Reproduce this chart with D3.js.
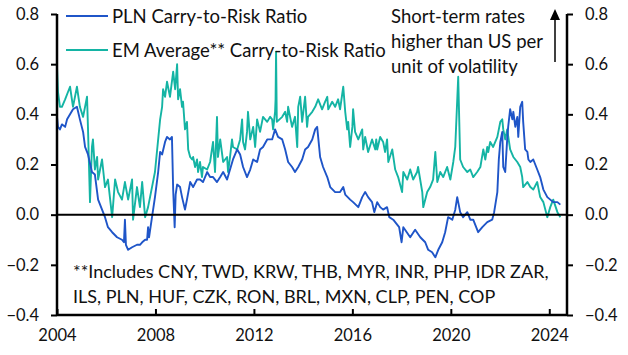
<!DOCTYPE html>
<html><head><meta charset="utf-8">
<script src="https://cdn.jsdelivr.net/npm/d3@7"></script>
<style>body{margin:0;background:#fff}svg{display:block}text{font-family:Lato,"Open Sans",sans-serif;fill:#111}</style>
</head><body><svg id="c" width="628" height="355"></svg>
<script>
const yTicks = [-0.4,-0.2,0.0,0.2,0.4,0.6,0.8];
const xTicks = [2004,2008,2012,2016,2020,2024];
const seriesNames = ["PLN Carry-to-Risk Ratio","EM Average** Carry-to-Risk Ratio"];
const annotation = ["Short-term rates","higher than US per","unit of volatility"];
const footnote = ["**Includes CNY, TWD, KRW, THB, MYR, INR, PHP, IDR ZAR,","ILS, PLN, HUF, CZK, RON, BRL, MXN, CLP, PEN, COP"];
const plnData = [
[2004.00,0.39],[2004.04,0.35],[2004.12,0.34],[2004.20,0.36],[2004.33,0.35],[2004.41,0.38],[2004.53,0.40],[2004.65,0.42],[2004.81,0.43],[2004.93,0.38],
[2005.06,0.33],[2005.14,0.27],[2005.26,0.24],[2005.42,0.17],[2005.54,0.16],[2005.67,0.06],[2005.83,0.02],[2005.95,-0.01],[2006.07,-0.05],[2006.24,-0.07],
[2006.44,-0.09],[2006.64,-0.10],[2006.72,-0.11],[2006.76,-0.02],[2006.80,-0.12],[2006.89,-0.14],[2007.05,-0.13],[2007.25,-0.12],[2007.37,-0.12],[2007.46,-0.11],
[2007.58,-0.10],[2007.66,-0.10],[2007.70,-0.05],[2007.74,-0.09],[2007.86,-0.01],[2007.98,0.07],[2008.11,0.17],[2008.19,0.25],[2008.27,0.24],[2008.39,0.29],
[2008.47,0.31],[2008.59,0.30],[2008.67,0.31],[2008.72,0.10],[2008.78,-0.05],[2008.82,0.08],[2008.88,0.12],[2009.00,0.11],[2009.08,0.07],[2009.20,0.02],
[2009.28,0.06],[2009.41,0.13],[2009.53,0.11],[2009.69,0.14],[2009.81,0.14],[2009.93,0.13],[2010.10,0.17],[2010.22,0.15],[2010.34,0.15],[2010.50,0.13],
[2010.63,0.15],[2010.75,0.17],[2010.91,0.14],[2011.03,0.18],[2011.15,0.22],[2011.32,0.26],[2011.44,0.24],[2011.56,0.19],[2011.72,0.15],[2011.85,0.18],
[2011.97,0.22],[2012.13,0.21],[2012.25,0.26],[2012.37,0.27],[2012.54,0.30],[2012.66,0.30],[2012.74,0.30],[2012.86,0.34],[2012.98,0.31],[2013.15,0.30],
[2013.27,0.26],[2013.39,0.21],[2013.55,0.19],[2013.67,0.17],[2013.80,0.19],[2013.96,0.22],[2014.08,0.26],[2014.20,0.27],[2014.37,0.30],[2014.49,0.34],
[2014.57,0.35],[2014.69,0.23],[2014.81,0.19],[2014.98,0.15],[2015.10,0.11],[2015.30,0.09],[2015.50,0.09],[2015.63,0.11],[2015.71,0.08],[2015.91,0.06],
[2016.03,0.05],[2016.24,0.03],[2016.40,0.07],[2016.52,0.09],[2016.64,0.07],[2016.80,0.05],[2016.89,0.01],[2017.01,0.05],[2017.13,0.03],[2017.25,0.02],
[2017.41,0.03],[2017.50,-0.01],[2017.66,-0.02],[2017.90,-0.05],[2018.00,-0.11],[2018.07,-0.05],[2018.35,-0.09],[2018.55,-0.06],[2018.76,-0.09],[2018.96,-0.11],
[2019.08,-0.14],[2019.24,-0.15],[2019.37,-0.17],[2019.49,-0.14],[2019.65,-0.11],[2019.77,-0.07],[2019.89,-0.01],[2020.06,-0.02],[2020.18,0.02],[2020.26,0.07],
[2020.38,0.01],[2020.50,-0.01],[2020.67,0.01],[2020.79,-0.02],[2020.91,-0.02],[2021.07,-0.06],[2021.11,-0.07],[2021.28,-0.05],[2021.48,-0.03],[2021.68,-0.02],
[2021.76,0.01],[2021.89,0.09],[2021.95,0.22],[2022.01,0.29],[2022.09,0.33],[2022.13,0.19],[2022.21,0.17],[2022.29,0.30],[2022.33,0.35],[2022.41,0.42],
[2022.50,0.38],[2022.54,0.41],[2022.62,0.35],[2022.70,0.39],[2022.74,0.31],[2022.82,0.43],[2022.90,0.45],[2022.94,0.37],[2023.02,0.26],[2023.11,0.25],
[2023.15,0.22],[2023.23,0.21],[2023.35,0.22],[2023.51,0.18],[2023.63,0.15],[2023.76,0.10],[2023.92,0.07],[2024.04,0.06],[2024.16,0.05],[2024.33,0.05],[2024.45,0.04]
];
const emData = [
[2004.00,0.59],[2004.04,0.49],[2004.12,0.43],[2004.20,0.43],[2004.33,0.46],[2004.45,0.49],[2004.53,0.51],[2004.65,0.43],[2004.81,0.51],[2004.93,0.43],
[2005.06,0.39],[2005.22,0.47],[2005.26,0.34],[2005.34,0.05],[2005.42,0.27],[2005.46,0.30],[2005.54,0.18],[2005.63,0.23],[2005.67,0.14],[2005.83,0.22],
[2005.95,0.11],[2006.07,0.14],[2006.24,-0.01],[2006.36,0.14],[2006.48,0.09],[2006.64,0.06],[2006.76,0.13],[2006.89,0.06],[2007.05,0.14],[2007.09,-0.02],
[2007.25,0.11],[2007.37,0.03],[2007.46,0.13],[2007.58,-0.01],[2007.70,0.03],[2007.86,0.11],[2007.98,0.17],[2008.11,0.30],[2008.19,0.38],[2008.27,0.43],
[2008.31,0.50],[2008.39,0.47],[2008.47,0.53],[2008.59,0.47],[2008.72,0.57],[2008.80,0.50],[2008.88,0.60],[2008.92,0.46],[2009.00,0.50],[2009.08,0.43],
[2009.12,0.45],[2009.20,0.34],[2009.28,0.37],[2009.33,0.26],[2009.41,0.23],[2009.49,0.22],[2009.53,0.23],[2009.61,0.19],[2009.69,0.22],[2009.73,0.17],
[2009.81,0.21],[2009.89,0.15],[2009.93,0.19],[2010.10,0.18],[2010.22,0.21],[2010.34,0.29],[2010.42,0.17],[2010.50,0.39],[2010.54,0.23],[2010.63,0.30],
[2010.75,0.21],[2010.91,0.23],[2010.95,0.17],[2011.03,0.23],[2011.11,0.30],[2011.15,0.27],[2011.32,0.26],[2011.44,0.30],[2011.52,0.38],[2011.56,0.29],
[2011.64,0.26],[2011.72,0.33],[2011.76,0.41],[2011.85,0.30],[2011.97,0.35],[2012.05,0.27],[2012.13,0.38],[2012.25,0.33],[2012.37,0.39],[2012.54,0.37],
[2012.66,0.39],[2012.74,0.38],[2012.78,0.34],[2012.86,0.41],[2012.88,0.46],[2012.90,0.65],[2012.93,0.37],[2013.15,0.39],[2013.27,0.41],[2013.35,0.37],
[2013.39,0.43],[2013.55,0.35],[2013.67,0.39],[2013.76,0.27],[2013.80,0.43],[2013.88,0.47],[2013.96,0.37],[2014.08,0.47],[2014.16,0.35],[2014.20,0.39],
[2014.37,0.41],[2014.49,0.43],[2014.61,0.46],[2014.77,0.42],[2014.89,0.45],[2014.98,0.47],[2015.02,0.42],[2015.18,0.45],[2015.30,0.43],[2015.42,0.46],
[2015.50,0.42],[2015.63,0.51],[2015.71,0.41],[2015.79,0.34],[2015.83,0.37],[2015.91,0.27],[2016.00,0.35],[2016.03,0.42],[2016.11,0.33],[2016.24,0.30],
[2016.40,0.34],[2016.44,0.26],[2016.52,0.31],[2016.64,0.25],[2016.80,0.30],[2016.93,0.26],[2016.97,0.30],[2017.01,0.26],[2017.13,0.31],[2017.25,0.29],
[2017.33,0.25],[2017.41,0.30],[2017.46,0.21],[2017.62,0.26],[2017.74,0.18],[2017.86,0.15],[2018.02,0.09],[2018.07,0.17],[2018.23,0.14],[2018.35,0.18],
[2018.47,0.14],[2018.63,0.17],[2018.67,0.19],[2018.84,0.09],[2018.88,0.03],[2019.04,0.09],[2019.16,0.11],[2019.28,0.14],[2019.37,0.25],[2019.45,0.13],
[2019.57,0.17],[2019.69,0.15],[2019.85,0.19],[2019.98,0.14],[2020.10,0.21],[2020.18,0.27],[2020.30,0.55],[2020.38,0.22],[2020.50,0.19],[2020.67,0.17],
[2020.79,0.18],[2020.91,0.15],[2021.07,0.17],[2021.20,0.19],[2021.32,0.26],[2021.40,0.22],[2021.48,0.27],[2021.52,0.25],[2021.60,0.29],[2021.72,0.27],
[2021.89,0.31],[2022.01,0.37],[2022.09,0.38],[2022.13,0.34],[2022.21,0.30],[2022.29,0.34],[2022.41,0.26],[2022.54,0.23],[2022.70,0.21],[2022.82,0.19],
[2022.90,0.15],[2022.94,0.11],[2023.11,0.13],[2023.23,0.11],[2023.35,0.10],[2023.51,0.13],[2023.63,0.07],[2023.76,0.05],[2023.92,-0.01],[2024.04,0.03],
[2024.16,0.06],[2024.33,0.01],[2024.45,-0.01]
];
const colors = ["#1f55c8","#14b4a4"];

const svg = d3.select("#c");
const L = 57, R = 567, T = 14, B = 315;
const x = d3.scaleLinear().domain([2004, 2024.72]).range([L, R]);
const y = d3.scaleLinear().domain([-0.4, 0.8]).range([B, T]);
const fmt = d3.format(".1f");

// lines
const line = d3.line().x(d => x(d[0])).y(d => y(d[1]));
svg.append("path").datum(emData).attr("d", line).attr("fill","none").attr("stroke",colors[1]).attr("stroke-width",1.9).attr("stroke-linejoin","round");
svg.append("path").datum(plnData).attr("d", line).attr("fill","none").attr("stroke",colors[0]).attr("stroke-width",1.9).attr("stroke-linejoin","round");

// zero line
svg.append("line").attr("x1",L).attr("x2",R).attr("y1",y(0)).attr("y2",y(0)).attr("stroke","#000").attr("stroke-width",2);

// axes
const fs = "16.5px";
const la = svg.append("g").attr("transform",`translate(${L},0)`).call(d3.axisLeft(y).tickValues(yTicks).tickFormat(fmt).tickSize(6).tickPadding(12));
const ra = svg.append("g").attr("transform",`translate(${R},0)`).call(d3.axisRight(y).tickValues(yTicks).tickFormat(fmt).tickSize(6).tickPadding(12));
const ba = svg.append("g").attr("transform",`translate(0,${B})`).call(d3.axisBottom(x).tickValues(xTicks).tickFormat(d3.format("d")).tickSize(-6).tickPadding(14));
[la,ra,ba].forEach(g => {
  g.select(".domain").attr("stroke","#000").attr("stroke-width",2.5);
  g.selectAll(".tick line").attr("stroke","#000").attr("stroke-width",2);
  g.selectAll(".tick text").style("font-size",fs).style("font-family","Lato,sans-serif").attr("fill","#111");
});
la.select(".domain").attr("d",`M0,${T}V${B}`);
ra.select(".domain").attr("d",`M0,${T}V${B}`);
ba.select(".domain").attr("d",`M${L},0H${R}`);

// legend
seriesNames.forEach((n,i) => {
  const ly = [16,50][i];
  svg.append("line").attr("x1",66).attr("x2",108).attr("y1",ly).attr("y2",ly).attr("stroke",colors[i]).attr("stroke-width",2);
  svg.append("text").attr("x",112).attr("y",ly+7).style("font-size","18.5px").text(n);
});

// annotation
annotation.forEach((t,i) => {
  svg.append("text").attr("x",391).attr("y",23+i*25).style("font-size","18.5px").text(t);
});
svg.append("line").attr("x1",555).attr("x2",555).attr("y1",62).attr("y2",18).attr("stroke","#000").attr("stroke-width",1.5);
svg.append("path").attr("d","M555,9 L560,20 L550,20 Z").attr("fill","#000");

// footnote
footnote.forEach((t,i) => {
  svg.append("text").attr("x",73).attr("y",278+i*25).style("font-size","18px").text(t);
});
</script></body></html>
